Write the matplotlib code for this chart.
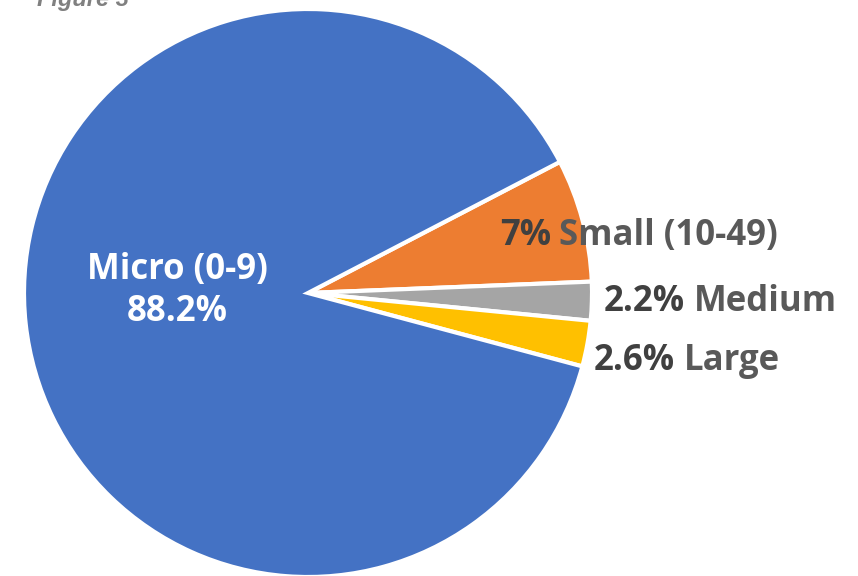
import matplotlib.pyplot as plt

# Enterprise size classes by number of employees
categories = ['Small (10-49)', 'Medium', 'Large', 'Micro (0-9)']
shares = [7.0, 2.2, 2.6, 88.2]
pct_labels = ['7%', '2.2%', '2.6%', '88.2%']
colors = ['#ED7D31', '#A5A5A5', '#FFC000', '#4472C4']

W, H = 858, 576
fig = plt.figure(figsize=(W / 100, H / 100), dpi=100)
ax = fig.add_axes([0, 0, 1, 1])

cx, cy, r = 308, H - 293, 284
wedges, _ = ax.pie(shares, colors=colors, startangle=27.5, counterclock=False,
                   center=(cx, cy), radius=r, frame=True,
                   wedgeprops=dict(edgecolor='white', linewidth=3))
ax.set_xlim(0, W)
ax.set_ylim(0, H)
ax.set_aspect('equal')
ax.axis('off')

font = 'Open Sans'
fs = 25

# outside labels: dark percentage followed by grey category name
label_pos = {0: (500, H - 236), 1: (604, H - 302), 2: (594, H - 361)}
for i, (x, y) in label_pos.items():
    t = ax.text(x, y, pct_labels[i], fontsize=fs, fontweight='bold', family=font,
                color='#404040', ha='left', va='center')
    ax.annotate(categories[i], xy=(1, 0.5), xycoords=t, xytext=(6, 0),
                textcoords='offset points', fontsize=fs, fontweight='bold',
                family=font, color='#595959', ha='left', va='center')

# big slice label inside
ax.text(177, H - 291, f'{categories[3]}\n{pct_labels[3]}', fontsize=fs,
        fontweight='bold', family=font, color='white', ha='center',
        va='center', linespacing=1.2)

fig.text(37 / W, 1 - 6 / H, 'Figure 3', fontsize=17, fontweight='bold',
         fontstyle='italic', family='Liberation Sans', color='#808080',
         ha='left', va='baseline')

fig.savefig('out.png', dpi=100)
